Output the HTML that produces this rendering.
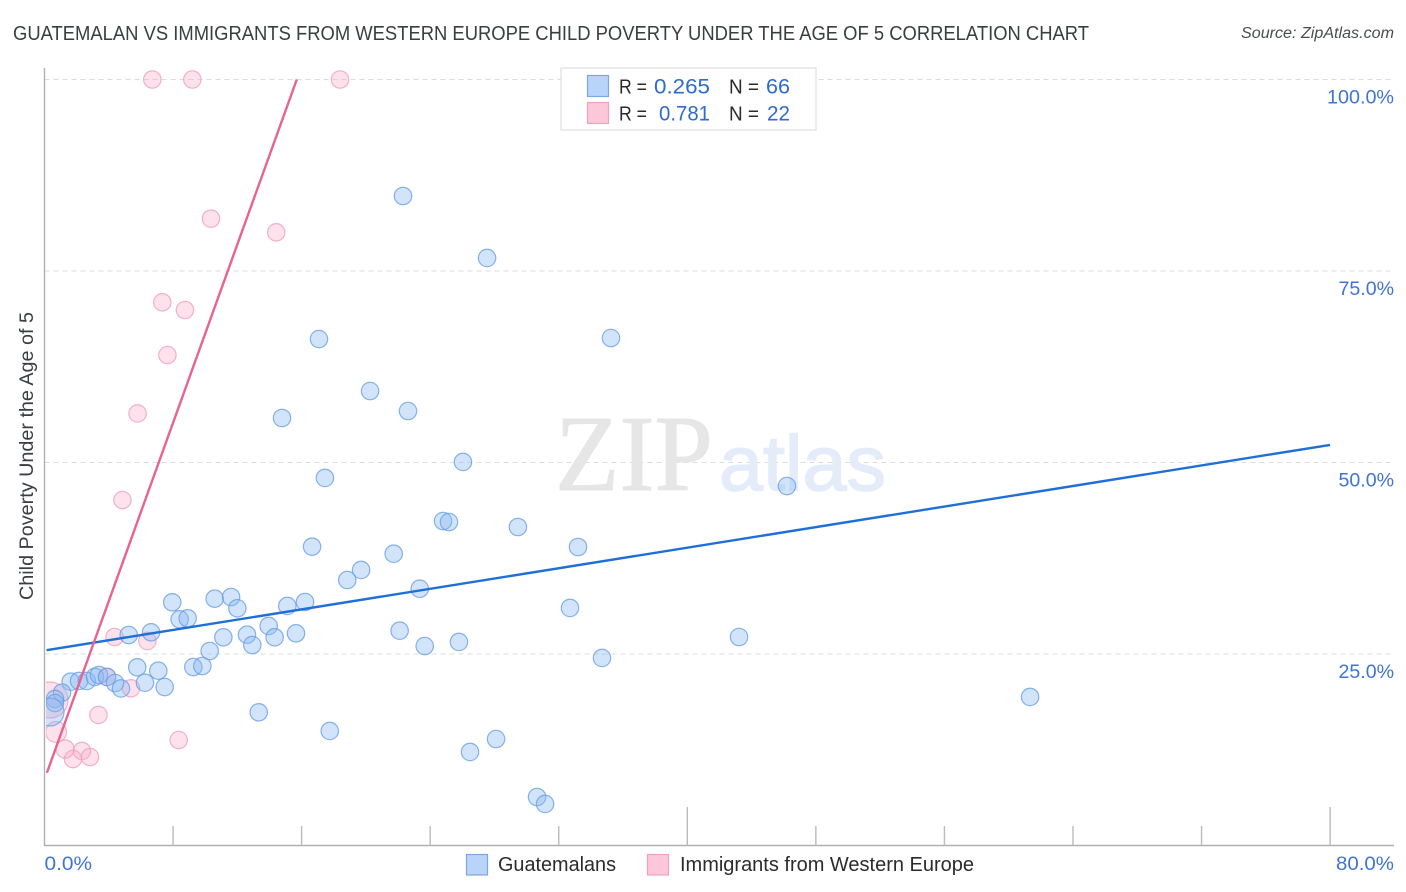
<!DOCTYPE html>
<html lang="en">
<head>
<meta charset="utf-8">
<title>Guatemalan vs Immigrants from Western Europe Child Poverty Correlation Chart</title>
<style>
html,body{margin:0;padding:0;background:#fff;width:1406px;height:892px;overflow:hidden}
svg{display:block;font-family:"Liberation Sans",sans-serif}
</style>
</head>
<body>
<svg id="chart" xmlns="http://www.w3.org/2000/svg" width="1406" height="892" viewBox="0 0 1406 892">
  <defs>
    <clipPath id="plot-clip"><rect x="46" y="60" width="1350" height="785"/></clipPath>
  </defs>
  <text x="13" y="40" font-size="20" fill="#3a3d42" textLength="1076" lengthAdjust="spacingAndGlyphs">GUATEMALAN VS IMMIGRANTS FROM WESTERN EUROPE CHILD POVERTY UNDER THE AGE OF 5 CORRELATION CHART</text>
  <text x="1394" y="38" font-size="15.5" font-style="italic" fill="#4a4d52" text-anchor="end" textLength="153" lengthAdjust="spacingAndGlyphs">Source: ZipAtlas.com</text>
  <g id="grid"></g>
  <g>
    <text x="555" y="490" font-family="'Liberation Serif',serif" font-size="108" fill="#e6e6e6" stroke="#e6e6e6" stroke-width="1" textLength="158" lengthAdjust="spacingAndGlyphs">ZIP</text>
    <text x="719" y="490" font-size="78" fill="#e4ecfa" stroke="#e4ecfa" stroke-width="1.5" textLength="167" lengthAdjust="spacingAndGlyphs">atlas</text>
  </g>
  <g id="axes"></g>
  <g id="pink-points" clip-path="url(#plot-clip)"></g>
  <g id="blue-points" clip-path="url(#plot-clip)"></g>
  <g id="trend-lines"></g>
  <text transform="translate(33,456) rotate(-90)" font-size="19" fill="#3a3d42" text-anchor="middle" textLength="288" lengthAdjust="spacingAndGlyphs">Child Poverty Under the Age of 5</text>
  <g id="tick-labels"></g>
  <g>
    <rect x="561" y="68" width="255" height="62" fill="#fff" stroke="#dedede" stroke-width="1.2"/>
    <rect x="587.5" y="75.5" width="21" height="21" fill="#b9d4f9" stroke="#7ba7e6" stroke-width="1.2"/>
    <rect x="587.5" y="102.5" width="21" height="21" fill="#fcc8d9" stroke="#f2a0bb" stroke-width="1.2"/>
    <text x="619" y="93.5" font-size="20" fill="#2b2b2b" textLength="28" lengthAdjust="spacingAndGlyphs">R =</text>
    <text x="654" y="93.5" font-size="21" fill="#2f6bcf" textLength="56" lengthAdjust="spacingAndGlyphs">0.265</text>
    <text x="729" y="93.5" font-size="20" fill="#2b2b2b" textLength="30" lengthAdjust="spacingAndGlyphs">N =</text>
    <text x="766" y="93.5" font-size="21" fill="#2f6bcf" textLength="24" lengthAdjust="spacingAndGlyphs">66</text>
    <text x="619" y="120.5" font-size="20" fill="#2b2b2b" textLength="28" lengthAdjust="spacingAndGlyphs">R =</text>
    <text x="659" y="120.5" font-size="21" fill="#2f6bcf" textLength="51" lengthAdjust="spacingAndGlyphs">0.781</text>
    <text x="729" y="120.5" font-size="20" fill="#2b2b2b" textLength="30" lengthAdjust="spacingAndGlyphs">N =</text>
    <text x="767" y="120.5" font-size="21" fill="#2f6bcf" textLength="23" lengthAdjust="spacingAndGlyphs">22</text>
  </g>
  <g>
    <rect x="466.5" y="854.5" width="21" height="20.5" fill="#b9d4f9" stroke="#7ba7e6" stroke-width="1.2"/>
    <text x="498" y="871" font-size="20" fill="#2b2b2b" textLength="118" lengthAdjust="spacingAndGlyphs">Guatemalans</text>
    <rect x="647.5" y="854.5" width="21" height="20.5" fill="#fcc8d9" stroke="#f2a0bb" stroke-width="1.2"/>
    <text x="680" y="871" font-size="20" fill="#2b2b2b" textLength="294" lengthAdjust="spacingAndGlyphs">Immigrants from Western Europe</text>
  </g>
</svg>
<script>
const blueX = [22.31,27.54,17.08,35.25,20.26,14.78,22.62,26.04,17.45,46.20,24.80,25.17,29.46,16.65,33.20,21.73,19.70,18.84,23.35,7.95,10.59,11.61,12.00,15.11,16.21,32.70,8.41,8.91,6.63,5.24,13.95,12.60,11.13,14.32,15.65,12.93,22.10,23.66,25.79,43.22,10.28,34.69,9.26,9.82,5.77,7.08,6.25,7.48,1.63,2.15,2.63,3.14,3.39,3.89,4.39,4.76,1.09,0.65,0.65,0.34,61.33,13.33,17.75,28.10,26.48,30.65,31.15];
const blueY = [84.79,76.70,66.12,66.25,59.33,55.81,56.72,50.07,47.98,46.93,42.36,42.23,41.58,39.01,38.97,38.09,35.97,34.66,33.52,31.75,32.22,32.44,30.97,31.27,31.79,31.01,29.53,29.66,27.83,27.48,28.66,27.52,27.18,27.18,27.70,26.17,28.04,26.04,26.57,27.22,25.39,24.48,23.30,23.43,23.26,22.82,21.25,20.69,21.38,21.48,21.48,22.00,22.26,22.00,21.21,20.50,19.95,19.13,18.60,17.43,19.39,17.39,14.95,13.90,12.21,6.33,5.42];
const blueWeight = [1,1,1,1,1,1,1,1,1,1,1,1,1,1,1,1,1,1,1,1,1,1,1,1,1,1,1,1,1,1,1,1,1,1,1,1,1,1,1,1,1,1,1,1,1,1,1,1,1,1,1,1,1,1,1,1,1,1,1,2.6,1,1,1,1,1,1,1];
const pinkX = [6.71,9.20,18.39,10.36,14.42,7.33,8.74,7.65,5.79,4.85,4.36,6.40,3.89,5.38,3.36,8.35,2.33,1.77,2.83,1.28,0.72,0.34];
const pinkY = [100,100,100,81.83,80.05,70.91,69.91,64.03,56.40,45.10,27.22,26.70,22.00,20.52,17.04,13.77,12.34,11.29,11.55,12.60,14.82,18.99];
const pinkWeight = [1,1,1,1,1,1,1,1,1,1,1,1,1,1,1,1,1,1,1,1.1,1.45,4.3];
const blueTrendX = [0.13,80];
const blueTrendY = [25.5,52.3];
const pinkTrendX = [0.15,15.7];
const pinkTrendY = [9.5,100];
const yTicks = [100,75,50,25];
const yTickLabels = ["100.0%","75.0%","50.0%","25.0%"];
const xTicks = [8,16,24,32,40,48,56,64,72,80];
const xTallTicks = [40,80];
const xEndLabels = ["0.0%","80.0%"];

const NS = "http://www.w3.org/2000/svg";
const xScale = v => 44.5 + v * 16.07;
const yScale = v => 845.5 - v * 7.66;
const make = (parent, tag, attrs) => {
  const el = document.createElementNS(NS, tag);
  for (const k in attrs) el.setAttribute(k, attrs[k]);
  parent.appendChild(el);
  return el;
};

const grid = document.getElementById("grid");
const axes = document.getElementById("axes");
const labels = document.getElementById("tick-labels");

yTicks.forEach((t, i) => {
  const line = make(grid, "line", {x1: 44.5, x2: 1394, y1: yScale(t), y2: yScale(t), stroke: "#dcdcdc", "stroke-width": 1, "stroke-dasharray": "5 4"});
  
  
  const lab = make(labels, "text", {x: 1394, y: yScale(t) + 24, "font-size": 19.5, fill: "#3f74d3", "text-anchor": "end", textLength: yTickLabels[i].length === 6 ? 67 : 55.5, lengthAdjust: "spacingAndGlyphs"});
  lab.textContent = yTickLabels[i];
  
  
});

const yAxis = make(axes, "line", {x1: 44.5, x2: 44.5, y1: 68, y2: 846, stroke: "#b0b0b0", "stroke-width": 1.4});


const xAxis = make(axes, "line", {x1: 44, x2: 1394, y1: 845.5, y2: 845.5, stroke: "#b0b0b0", "stroke-width": 1.4});



xTicks.forEach(t => {
  const top = xTallTicks.includes(t) ? 807 : 826;
  const tick = make(axes, "line", {x1: xScale(t), x2: xScale(t), y1: top, y2: 845.5, stroke: "#bbbbbb", "stroke-width": 1.4});
  
  
});

const xLabelLeft = make(labels, "text", {x: 44.5, y: 870, "font-size": 19.5, fill: "#3f74d3", textLength: 47.5, lengthAdjust: "spacingAndGlyphs"});
xLabelLeft.textContent = xEndLabels[0];


const xLabelRight = make(labels, "text", {x: 1394, y: 870, "font-size": 19.5, fill: "#3f74d3", "text-anchor": "end", textLength: 58, lengthAdjust: "spacingAndGlyphs"});
xLabelRight.textContent = xEndLabels[1];



const pinkGroup = document.getElementById("pink-points");
pinkX.forEach((x, i) => {
  const c = make(pinkGroup, "circle", {cx: xScale(x), cy: yScale(pinkY[i]), r: 8.7 * Math.sqrt(pinkWeight[i]), fill: "#f9a8c3", "fill-opacity": 0.34, stroke: "#efa0bb", "stroke-opacity": 0.8, "stroke-width": 1.2});
  
  
});

const blueGroup = document.getElementById("blue-points");
blueX.forEach((x, i) => {
  const c = make(blueGroup, "circle", {cx: xScale(x), cy: yScale(blueY[i]), r: 8.7 * Math.sqrt(blueWeight[i]), fill: "#8ab8f2", "fill-opacity": 0.38, stroke: "#6a9fe6", "stroke-opacity": 0.8, "stroke-width": 1.2});
  
  
});

const trends = document.getElementById("trend-lines");
const blueTrend = make(trends, "line", {x1: xScale(blueTrendX[0]), y1: yScale(blueTrendY[0]), x2: xScale(blueTrendX[1]), y2: yScale(blueTrendY[1]), stroke: "#1f6fd8", "stroke-width": 2.4});


const pinkTrend = make(trends, "line", {x1: xScale(pinkTrendX[0]), y1: yScale(pinkTrendY[0]), x2: xScale(pinkTrendX[1]), y2: yScale(pinkTrendY[1]), stroke: "#e8638f", "stroke-width": 2.4});


</script>
</body>
</html>
